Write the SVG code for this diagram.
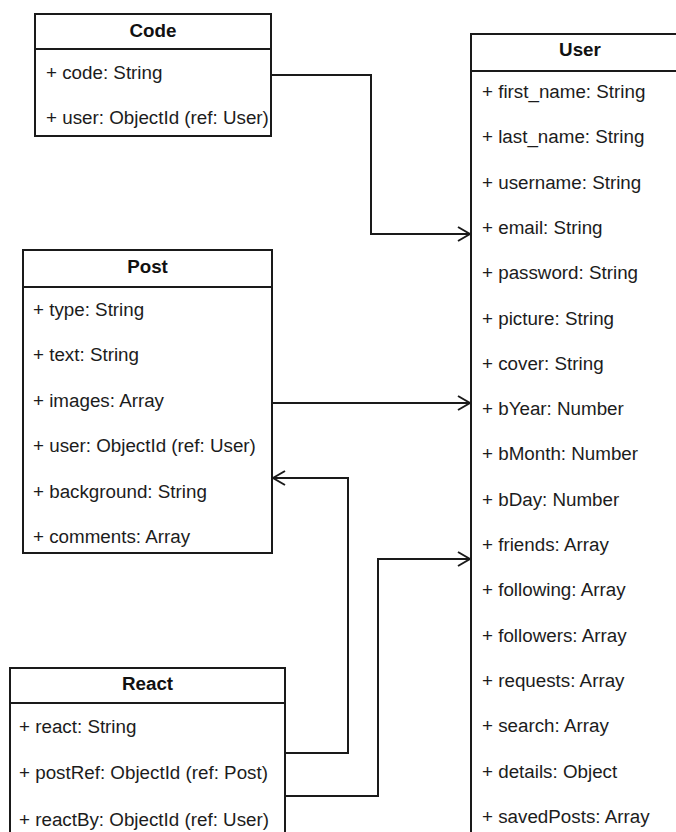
<svg xmlns="http://www.w3.org/2000/svg" width="676" height="832" viewBox="0 0 676 832">
  <style>
    .box { fill: #ffffff; stroke: #1a1a1a; stroke-width: 2; }
    .sep { stroke: #1a1a1a; stroke-width: 2; }
    .title { font-family: "Liberation Sans", Arial, sans-serif; font-size: 18.8px; font-weight: bold; fill: #111; text-anchor: middle; }
    .attr { font-family: "Liberation Sans", Arial, sans-serif; font-size: 18.8px; fill: #1c1c1c; }
    .edge { fill: none; stroke: #1a1a1a; stroke-width: 2; }
  </style>
  <defs>
    <marker id="open-arrow" viewBox="0 0 14 16" refX="13" refY="8" markerWidth="14" markerHeight="16" markerUnits="userSpaceOnUse" orient="auto">
      <path d="M1,1 L13,8 L1,15" fill="none" stroke="#1a1a1a" stroke-width="2"/>
    </marker>
  </defs>
  <rect width="676" height="832" fill="#ffffff"/>

  <!-- Code -->
  <g id="code">
    <rect class="box" x="35" y="14" width="236" height="122"/>
    <line class="sep" x1="35" y1="49" x2="271" y2="49"/>
    <text class="title" x="153" y="37">Code</text>
    <text class="attr" x="46" y="79">+ code: String</text>
    <text class="attr" x="46" y="124">+ user: ObjectId (ref: User)</text>
  </g>

  <!-- Post -->
  <g id="post">
    <rect class="box" x="23" y="250" width="249" height="303"/>
    <line class="sep" x1="23" y1="287" x2="272" y2="287"/>
    <text class="title" x="147.5" y="273">Post</text>
    <text class="attr" x="33" y="316">+ type: String</text>
    <text class="attr" x="33" y="361">+ text: String</text>
    <text class="attr" x="33" y="407">+ images: Array</text>
    <text class="attr" x="33" y="452">+ user: ObjectId (ref: User)</text>
    <text class="attr" x="33" y="498">+ background: String</text>
    <text class="attr" x="33" y="543">+ comments: Array</text>
  </g>

  <!-- React -->
  <g id="react">
    <rect class="box" x="10" y="668" width="275" height="180"/>
    <line class="sep" x1="10" y1="703" x2="285" y2="703"/>
    <text class="title" x="147.5" y="690">React</text>
    <text class="attr" x="19" y="733">+ react: String</text>
    <text class="attr" x="19" y="779">+ postRef: ObjectId (ref: Post)</text>
    <text class="attr" x="19" y="826">+ reactBy: ObjectId (ref: User)</text>
  </g>

  <!-- User -->
  <g id="user">
    <rect class="box" x="471" y="34" width="220" height="820"/>
    <line class="sep" x1="471" y1="71" x2="691" y2="71"/>
    <text class="title" x="580" y="56">User</text>
    <text class="attr" x="482" y="98">+ first_name: String</text>
    <text class="attr" x="482" y="143.3">+ last_name: String</text>
    <text class="attr" x="482" y="188.6">+ username: String</text>
    <text class="attr" x="482" y="233.9">+ email: String</text>
    <text class="attr" x="482" y="279.2">+ password: String</text>
    <text class="attr" x="482" y="324.5">+ picture: String</text>
    <text class="attr" x="482" y="369.8">+ cover: String</text>
    <text class="attr" x="482" y="415.1">+ bYear: Number</text>
    <text class="attr" x="482" y="460.4">+ bMonth: Number</text>
    <text class="attr" x="482" y="505.7">+ bDay: Number</text>
    <text class="attr" x="482" y="551">+ friends: Array</text>
    <text class="attr" x="482" y="596.3">+ following: Array</text>
    <text class="attr" x="482" y="641.6">+ followers: Array</text>
    <text class="attr" x="482" y="686.9">+ requests: Array</text>
    <text class="attr" x="482" y="732.2">+ search: Array</text>
    <text class="attr" x="482" y="777.5">+ details: Object</text>
    <text class="attr" x="482" y="822.8">+ savedPosts: Array</text>
  </g>

  <!-- Connectors -->
  <g id="connectors">
    <path class="edge" d="M272,75 H371 V234 H470" marker-end="url(#open-arrow)"/>
    <path class="edge" d="M272,403 H470" marker-end="url(#open-arrow)"/>
    <path class="edge" d="M285,753 H348 V478 H273" marker-end="url(#open-arrow)"/>
    <path class="edge" d="M285,796 H378 V559 H470" marker-end="url(#open-arrow)"/>
  </g>
</svg>
